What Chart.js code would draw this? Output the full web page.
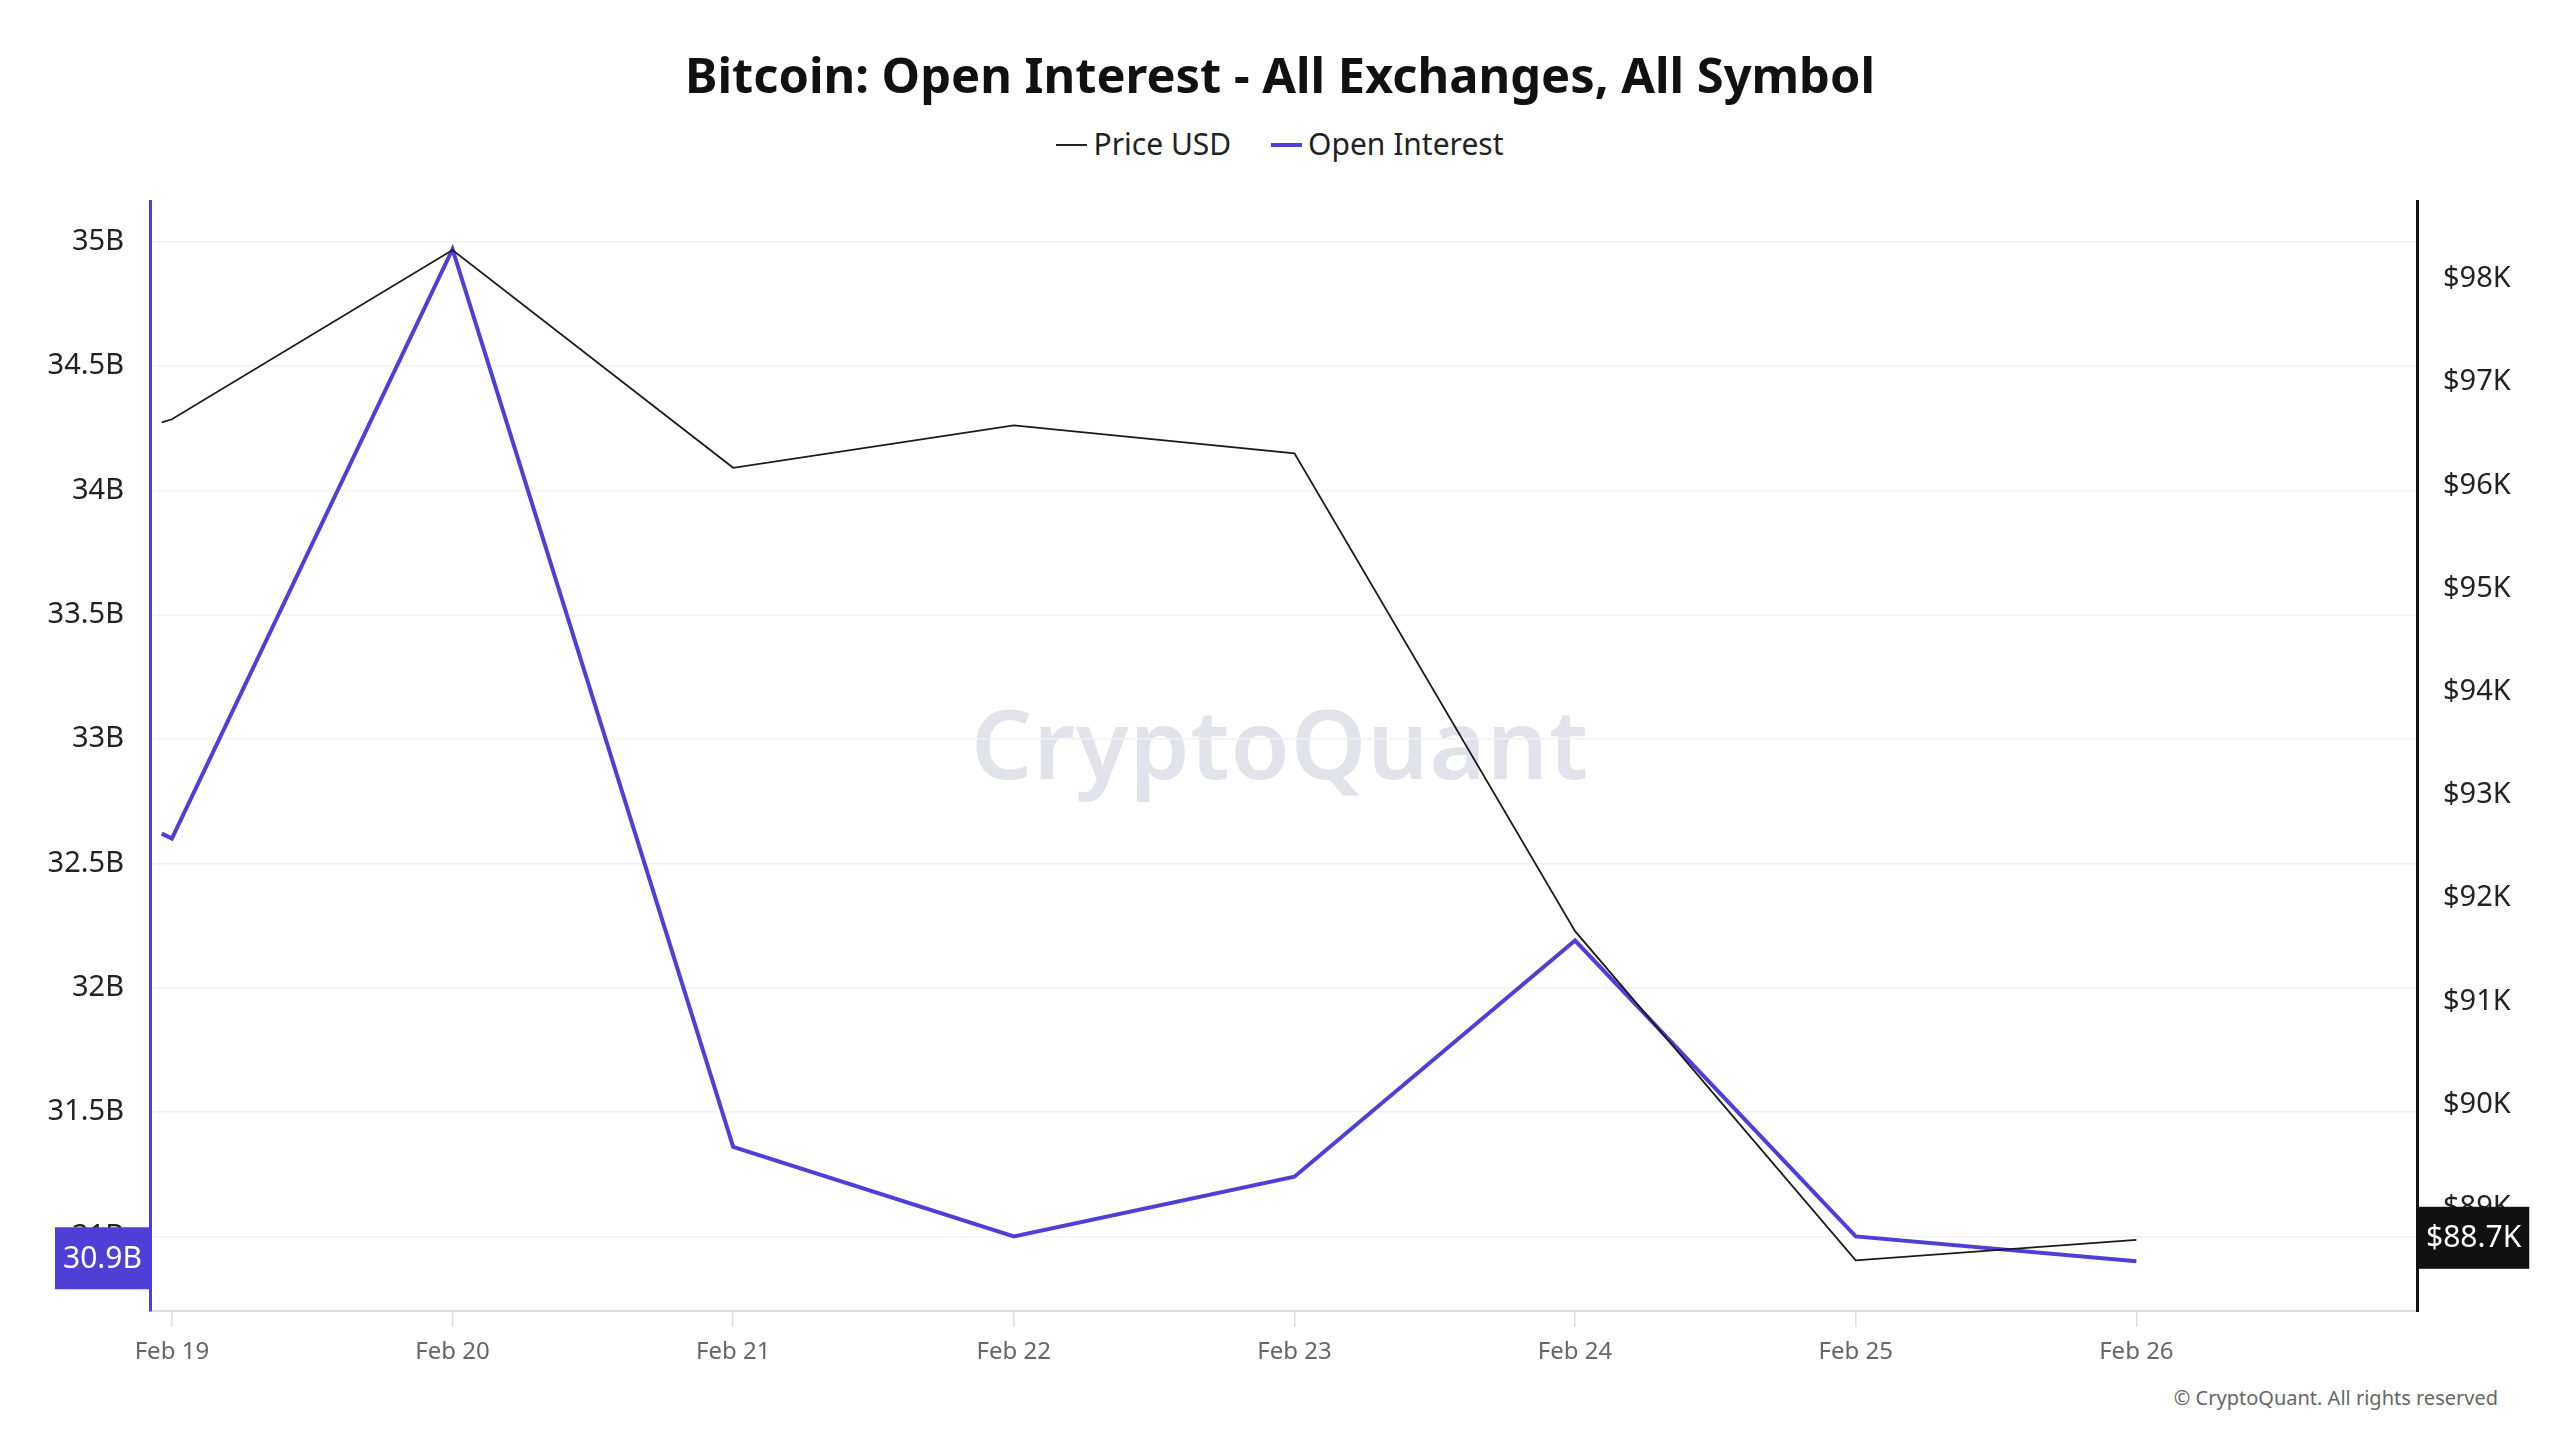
<!DOCTYPE html>
<html>
<head>
<meta charset="utf-8">
<title>Bitcoin: Open Interest - All Exchanges, All Symbol</title>
<script src="https://cdn.jsdelivr.net/npm/chart.js@4/dist/chart.umd.min.js"></script>
<style>
    html, body { margin: 0; padding: 0; background: #fff; }
    body { width: 2560px; height: 1440px; position: relative; overflow: hidden; font-family: 'Noto Sans', sans-serif; }
    #title { position: absolute; top: 45px; left: 0; width: 2560px; text-align: center; font-size: 48.8px; font-weight: 700; color: #111; line-height: 1.2; }
    #legend { position: absolute; top: 123px; left: 0; width: 2560px; text-align: center; font-size: 30px; color: #222; line-height: 42px; }
    #legend span.item { display: inline-block; margin: 0 16px; }
    #legend i { display: inline-block; width: 31px; vertical-align: middle; margin-right: 6px; position: relative; top: -2px; }
    #watermark { position: absolute; top: 676px; left: 0; width: 2560px; text-align: center; font-size: 96px; font-weight: 600; color: #e2e2ea; letter-spacing: 1px; z-index: 0; }
    #copy { position: absolute; top: 1384px; right: 62px; font-size: 20px; color: #666; }
    #wrap { position: absolute; left: 0; top: 0; width: 2560px; height: 1440px; z-index: 1; }
</style>
</head>
<body>
<div id="title">Bitcoin: Open Interest - All Exchanges, All Symbol</div>
<div id="legend">
    <span class="item"><i style="border-top: 2px solid #222;"></i>Price USD</span>
    <span class="item"><i style="border-top: 4px solid #4f3fd6;"></i>Open Interest</span>
</div>
<div id="watermark">CryptoQuant</div>
<div id="copy">© CryptoQuant. All rights reserved</div>
<div id="wrap"><canvas id="chart" width="2560" height="1440"></canvas></div>
<script>
// Data (day index 0 = Feb 19)
const dayLabels = ['Feb 19', 'Feb 20', 'Feb 21', 'Feb 22', 'Feb 23', 'Feb 24', 'Feb 25', 'Feb 26'];
const dayIndex = [-0.036, 0, 1, 2, 3, 4, 5, 6, 7];
const openInterest = [32.62, 32.60, 34.97, 31.36, 31.00, 31.24, 32.19, 31.00, 30.90]; // billions
const priceUSD = [96.61, 96.64, 98.28, 96.17, 96.58, 96.31, 91.68, 88.49, 88.69];     // thousands
const oiTicks = [31, 31.5, 32, 32.5, 33, 33.5, 34, 34.5, 35];
const priceTicks = [89, 90, 91, 92, 93, 94, 95, 96, 97, 98];

const OI_COLOR = '#4f3fd6';
const PRICE_COLOR = '#1a1a1a';

const toPoints = (xs, ys) => xs.map((x, i) => ({ x: x, y: ys[i] }));

// Last value badges on both axes
const lastValueBadges = {
    id: 'lastValueBadges',
    afterDatasetsDraw(chart) {
        const ctx = chart.ctx;
        const yl = chart.scales.y;
        const yr = chart.scales.y1;
        ctx.save();
        ctx.font = "30px 'Noto Sans', sans-serif";
        ctx.textBaseline = 'middle';

        const oiText = openInterest[openInterest.length - 1].toFixed(1) + 'B';
        const oiY = yl.getPixelForValue(openInterest[openInterest.length - 1]) - 3;
        const oiW = ctx.measureText(oiText).width + 16;
        ctx.fillStyle = OI_COLOR;
        ctx.fillRect(yl.right - oiW, oiY - 31, oiW, 62);
        ctx.fillStyle = '#fff';
        ctx.textAlign = 'left';
        ctx.fillText(oiText, yl.right - oiW + 8, oiY + 1);

        const prText = '$' + priceUSD[priceUSD.length - 1].toFixed(1) + 'K';
        const prY = yr.getPixelForValue(priceUSD[priceUSD.length - 1]) - 2;
        const prW = ctx.measureText(prText).width + 16;
        ctx.fillStyle = '#111';
        ctx.fillRect(yr.left + 1, prY - 31, prW, 62);
        ctx.fillStyle = '#fff';
        ctx.fillText(prText, yr.left + 9, prY + 1);
        ctx.restore();
    }
};

const ctx = document.getElementById('chart').getContext('2d');
Chart.defaults.font.family = "'Noto Sans', sans-serif";

new Chart(ctx, {
    type: 'line',
    data: {
        datasets: [
            {
                label: 'Price USD',
                data: toPoints(dayIndex, priceUSD),
                yAxisID: 'y1',
                borderColor: PRICE_COLOR,
                borderWidth: 1.8,
                pointRadius: 0,
                tension: 0
            },
            {
                label: 'Open Interest',
                data: toPoints(dayIndex, openInterest),
                yAxisID: 'y',
                borderColor: OI_COLOR,
                borderWidth: 4,
                pointRadius: 0,
                tension: 0
            }
        ]
    },
    options: {
        responsive: false,
        animation: false,
        layout: { padding: { top: 201, bottom: 0, left: 0, right: 0 } },
        plugins: {
            legend: { display: false },
            tooltip: { enabled: false },
            title: { display: false }
        },
        scales: {
            x: {
                type: 'linear',
                min: -0.078,
                max: 8.0,
                afterFit: s => { s.height = 129; },
                afterBuildTicks: s => { s.ticks = dayLabels.map((_, i) => ({ value: i })); },
                ticks: {
                    callback: v => dayLabels[v] || '',
                    color: '#666',
                    font: { size: 24 },
                    padding: 11,
                    maxRotation: 0,
                    autoSkip: false
                },
                grid: { drawOnChartArea: false, tickLength: 16, color: '#dcdcdc', lineWidth: 1.5 },
                border: { color: '#dcdcdc', width: 2 }
            },
            y: {
                position: 'left',
                min: 30.70,
                max: 35.164,
                afterFit: s => { s.width = 150; },
                afterBuildTicks: s => { s.ticks = oiTicks.map(v => ({ value: v })); },
                ticks: {
                    callback: v => v + 'B',
                    color: '#222',
                    font: { size: 29 },
                    padding: 26
                },
                grid: { color: '#f2f2f2', lineWidth: 1.5, drawTicks: false },
                border: { color: OI_COLOR, width: 3 }
            },
            y1: {
                position: 'right',
                min: 88.0,
                max: 98.755,
                afterFit: s => { s.width = 143; },
                afterBuildTicks: s => { s.ticks = priceTicks.map(v => ({ value: v })); },
                ticks: {
                    callback: v => '$' + v + 'K',
                    color: '#222',
                    font: { size: 29 },
                    padding: 26
                },
                grid: { drawOnChartArea: false, drawTicks: false },
                border: { color: '#111', width: 3 }
            }
        }
    },
    plugins: [lastValueBadges]
});
</script>
</body>
</html>
